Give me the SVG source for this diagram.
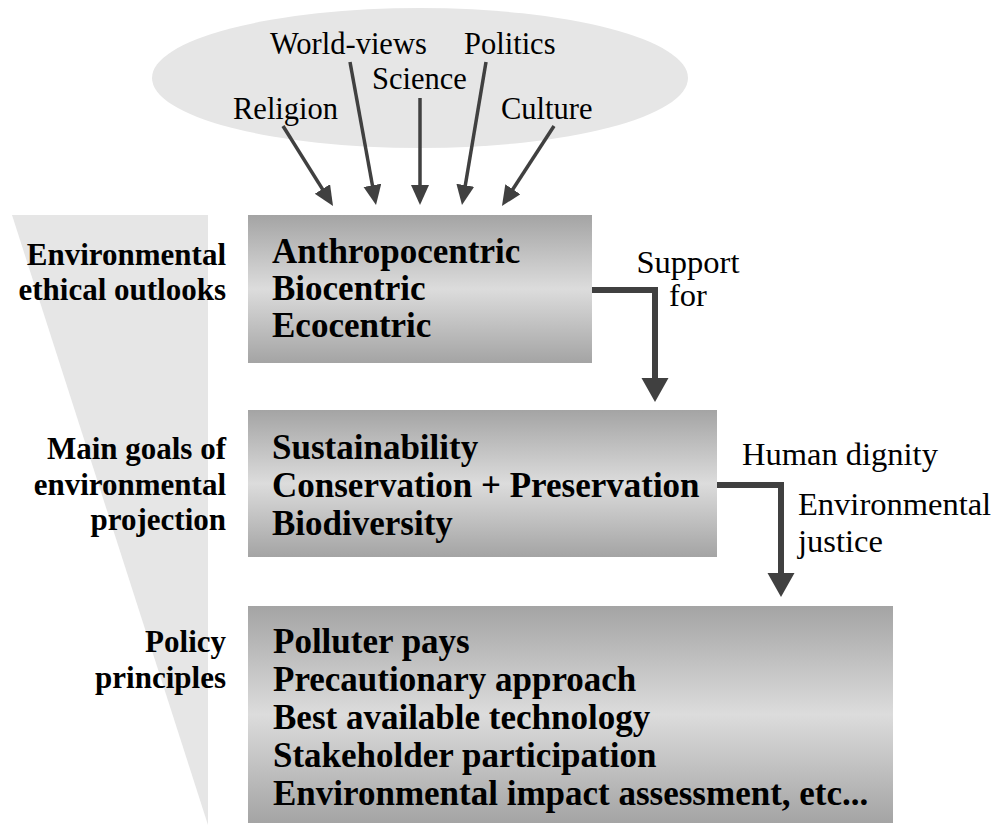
<svg xmlns="http://www.w3.org/2000/svg" width="997" height="825" viewBox="0 0 997 825">
<defs>
<linearGradient id="boxGrad" x1="0" y1="0" x2="0" y2="1">
<stop offset="0" stop-color="#a4a4a4"/>
<stop offset="0.5" stop-color="#dcdcdc"/>
<stop offset="1" stop-color="#a4a4a4"/>
</linearGradient>
<marker id="headS" markerUnits="userSpaceOnUse" markerWidth="22" markerHeight="20" refX="6" refY="9" orient="auto" viewBox="0 0 22 20">
<path d="M0,0 L20,9 L0,18 z" fill="#404040"/>
</marker>
<marker id="headL" markerUnits="userSpaceOnUse" markerWidth="26" markerHeight="28" refX="4" refY="13.5" orient="auto" viewBox="0 0 26 28">
<path d="M0,0 L24,13.5 L0,27 z" fill="#404040"/>
</marker>
</defs>
<style>
.bg{fill:#e6e6e6}
.box{fill:url(#boxGrad)}
.reg{font-family:"Liberation Serif","DejaVu Serif",serif;fill:#000}
.top{font-size:30.5px}
.side{font-size:32.5px}
.bold{font-family:"Liberation Serif","DejaVu Serif",serif;font-weight:bold;fill:#000}
.lbl{font-size:31px;text-anchor:end}
.item{font-size:35px}
.thin{fill:none;stroke:#404040;stroke-width:3.5;marker-end:url(#headS)}
.thick{fill:none;stroke:#404040;stroke-width:6;marker-end:url(#headL)}
</style>
<rect width="997" height="825" fill="#fff"/>

<g id="hierarchy-wedge">
<polygon class="bg" points="12,215 208,215 208,825"/>
</g>

<g id="influences">
<ellipse class="bg" cx="420" cy="78" rx="268" ry="70"/>
<g id="religion"><text class="reg top" x="233" y="119">Religion</text></g>
<g id="world-views"><text class="reg top" x="270" y="54">World-views</text></g>
<g id="science"><text class="reg top" x="372" y="89">Science</text></g>
<g id="politics"><text class="reg top" x="464" y="54">Politics</text></g>
<g id="culture"><text class="reg top" x="501" y="119">Culture</text></g>
</g>

<g id="label-outlooks">
<text class="bold lbl" x="226" y="265">Environmental</text>
<text class="bold lbl" x="226" y="300">ethical outlooks</text>
</g>
<g id="label-goals">
<text class="bold lbl" x="226" y="459">Main goals of</text>
<text class="bold lbl" x="226" y="495">environmental</text>
<text class="bold lbl" x="226" y="530">projection</text>
</g>
<g id="label-principles">
<text class="bold lbl" x="226" y="652">Policy</text>
<text class="bold lbl" x="226" y="688">principles</text>
</g>

<g id="box-outlooks">
<rect class="box" x="248" y="215" width="344" height="148"/>
<text class="bold item" x="272" y="263">Anthropocentric</text>
<text class="bold item" x="272" y="300">Biocentric</text>
<text class="bold item" x="272" y="337">Ecocentric</text>
</g>

<g id="box-goals">
<rect class="box" x="248" y="410" width="469" height="147"/>
<text class="bold item" x="272" y="459">Sustainability</text>
<text class="bold item" x="272" y="497">Conservation + Preservation</text>
<text class="bold item" x="272" y="535">Biodiversity</text>
</g>

<g id="box-principles">
<rect class="box" x="248" y="606" width="645" height="217"/>
<text class="bold item" x="273" y="653">Polluter pays</text>
<text class="bold item" x="273" y="691">Precautionary approach</text>
<text class="bold item" x="273" y="729">Best available technology</text>
<text class="bold item" x="273" y="767">Stakeholder participation</text>
<text class="bold item" x="273" y="805">Environmental impact assessment, etc...</text>
</g>

<g id="connectors">
<line class="thin" x1="283" y1="126" x2="325.6" y2="194.1"/>
<line class="thin" x1="350" y1="62" x2="373.5" y2="191.2"/>
<line class="thin" x1="420" y1="98" x2="420" y2="191"/>
<line class="thin" x1="486" y1="62" x2="464.3" y2="191.2"/>
<line class="thin" x1="554" y1="126" x2="509.6" y2="194.3"/>
<path class="thick" d="M592,290 H655 V382"/>
<path class="thick" d="M717,485 H781 V577"/>
<text class="reg side" x="688" y="273" text-anchor="middle">Support</text>
<text class="reg side" x="688" y="306" text-anchor="middle">for</text>
<text class="reg side" x="742" y="465">Human dignity</text>
<text class="reg side" x="798" y="515">Environmental</text>
<text class="reg side" x="798" y="552">justice</text>
</g>
</svg>
